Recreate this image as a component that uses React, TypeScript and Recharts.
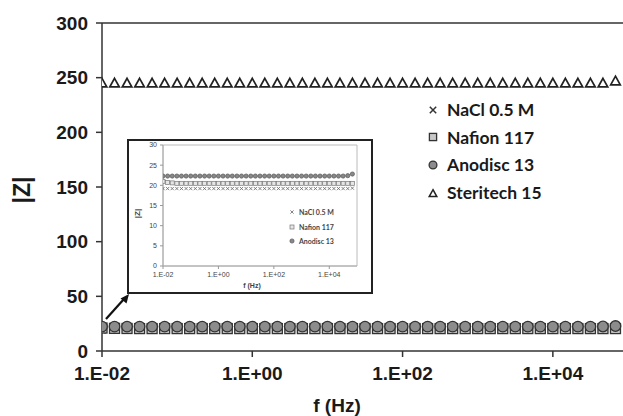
import React from 'react';
import {
  ScatterChart,
  Scatter,
  XAxis,
  YAxis,
  ReferenceLine,
  ReferenceArea,
  Legend,
} from 'recharts';

// measurement frequencies (Hz), 6 points per decade
const freqs = [
  0.01, 0.01468, 0.02154, 0.03162, 0.04642, 0.06813,
  0.1, 0.1468, 0.2154, 0.3162, 0.4642, 0.6813,
  1, 1.468, 2.154, 3.162, 4.642, 6.813,
  10, 14.68, 21.54, 31.62, 46.42, 68.13,
  100, 146.8, 215.4, 316.2, 464.2, 681.3,
  1000, 1468, 2154, 3162, 4642, 6813,
  10000, 14680, 21540, 31620, 46420, 68130,
];

const naclZ = [
  19.2, 19.2, 19.2, 19.2, 19.2, 19.2, 19.2, 19.2, 19.2, 19.2, 19.2, 19.2, 19.2, 19.2,
  19.2, 19.2, 19.2, 19.2, 19.2, 19.2, 19.2, 19.2, 19.2, 19.2, 19.2, 19.2, 19.2, 19.2,
  19.2, 19.2, 19.2, 19.2, 19.2, 19.2, 19.2, 19.2, 19.2, 19.2, 19.2, 19.2, 19.2, 19.3,
];
const nafionZ = [
  21.0, 20.7, 20.6, 20.5, 20.5, 20.5, 20.5, 20.5, 20.5, 20.5, 20.5, 20.5, 20.5, 20.5,
  20.5, 20.5, 20.5, 20.5, 20.5, 20.5, 20.5, 20.5, 20.5, 20.5, 20.5, 20.5, 20.5, 20.5,
  20.5, 20.5, 20.5, 20.5, 20.5, 20.5, 20.5, 20.5, 20.5, 20.5, 20.5, 20.5, 20.5, 20.5,
];
const anodiscZ = [
  22.3, 22.3, 22.3, 22.3, 22.3, 22.3, 22.3, 22.3, 22.3, 22.3, 22.3, 22.3, 22.3, 22.3,
  22.3, 22.3, 22.3, 22.3, 22.3, 22.3, 22.3, 22.3, 22.3, 22.3, 22.3, 22.3, 22.3, 22.3,
  22.3, 22.3, 22.3, 22.3, 22.3, 22.3, 22.3, 22.3, 22.3, 22.3, 22.3, 22.3, 22.4, 22.8,
];
const steritechZ = [
  245, 245, 245, 245, 245, 245, 245, 245, 245, 245, 245, 245, 245, 245,
  245, 245, 245, 245, 245, 245, 245, 245, 245, 245, 245, 245, 245, 245,
  245, 245, 245, 245, 245, 245, 245, 245, 245, 245, 245, 245, 245, 247,
];

const xTicks = [0.01, 1, 100, 10000];
const xTickLabels = ['1.E-02', '1.E+00', '1.E+02', '1.E+04'];
const mainYTicks = [0, 50, 100, 150, 200, 250, 300];
const insetYTicks = [0, 5, 10, 15, 20, 25, 30];

const toPoints = (values: number[]) => freqs.map((f, i) => ({ f, z: values[i] }));
const fmtX = (v: number) => xTickLabels[xTicks.indexOf(v)] ?? '';

const AXIS_FONT = '"Liberation Sans", Arial, sans-serif';
const LEGEND_FONT = 'Lato, "Liberation Sans", sans-serif';

// marker factories
const cross = (s: number, color: string, w: number) => (p: any) => (
  <path
    d={`M${p.cx - s},${p.cy - s}L${p.cx + s},${p.cy + s}M${p.cx - s},${p.cy + s}L${p.cx + s},${p.cy - s}`}
    stroke={color}
    strokeWidth={w}
    fill="none"
  />
);
const square = (s: number, fill: string, stroke: string, w: number) => (p: any) => (
  <rect x={p.cx - s} y={p.cy - s} width={2 * s} height={2 * s} fill={fill} stroke={stroke} strokeWidth={w} />
);
const circle = (r: number, fill: string, stroke: string, w: number) => (p: any) => (
  <circle cx={p.cx} cy={p.cy} r={r} fill={fill} stroke={stroke} strokeWidth={w} />
);
const triangle = (s: number, stroke: string, w: number) => (p: any) => (
  <path
    d={`M${p.cx},${p.cy - s}L${p.cx + s},${p.cy + s * 0.8}L${p.cx - s},${p.cy + s * 0.8}Z`}
    fill="#fff"
    stroke={stroke}
    strokeWidth={w}
  />
);

const mainSeries = [
  { name: 'NaCl 0.5 M', data: toPoints(naclZ), shape: cross(3.5, '#333', 1.4) },
  { name: 'Nafion 117', data: toPoints(nafionZ), shape: square(5, '#c8c8c8', '#333', 1.3) },
  { name: 'Anodisc 13', data: toPoints(anodiscZ), shape: circle(5.3, '#8c8c8c', '#333', 1.3) },
  { name: 'Steritech 15', data: toPoints(steritechZ), shape: triangle(4.8, '#222', 1.7) },
];

const insetSeries = [
  { name: 'NaCl 0.5 M', data: toPoints(naclZ), shape: cross(1.6, '#666', 0.8) },
  { name: 'Nafion 117', data: toPoints(nafionZ), shape: square(2, '#e6e6e6', '#777', 0.7) },
  { name: 'Anodisc 13', data: toPoints(anodiscZ), shape: circle(2.1, '#888', '#555', 0.7) },
];

function MainLegend() {
  return (
    <div style={{ fontFamily: LEGEND_FONT, fontWeight: 700, fontSize: 17.5, color: '#1a1a1a' }}>
      {mainSeries.map((s) => (
        <div key={s.name} style={{ display: 'flex', alignItems: 'center', height: 27.6 }}>
          <svg width={16} height={16}>
            {s.name === 'Steritech 15'
              ? triangle(3.8, '#222', 1.5)({ cx: 8, cy: 8.5 })
              : s.name === 'NaCl 0.5 M'
              ? cross(3.2, '#333', 1.5)({ cx: 8, cy: 8 })
              : s.name === 'Nafion 117'
              ? square(3.6, '#c8c8c8', '#333', 1.3)({ cx: 8, cy: 8 })
              : circle(3.9, '#8c8c8c', '#333', 1.3)({ cx: 8, cy: 8 })}
          </svg>
          <span style={{ marginLeft: 6, whiteSpace: 'nowrap' }}>{s.name}</span>
        </div>
      ))}
    </div>
  );
}

function InsetLegend() {
  return (
    <div style={{ fontFamily: LEGEND_FONT, fontWeight: 700, fontSize: 7, color: '#444' }}>
      {insetSeries.map((s) => (
        <div key={s.name} style={{ display: 'flex', alignItems: 'center', height: 14.5 }}>
          <svg width={8} height={8}>{s.shape({ cx: 4, cy: 4 })}</svg>
          <span style={{ marginLeft: 3, whiteSpace: 'nowrap' }}>{s.name}</span>
        </div>
      ))}
    </div>
  );
}

const mainYLabel = (props: any) => {
  const { x, y, height } = props.viewBox;
  const cx = x + 22;
  const cy = y + height / 2 + 3;
  return (
    <text
      x={cx}
      y={cy}
      transform={`rotate(-90 ${cx} ${cy})`}
      textAnchor="middle"
      dominantBaseline="central"
      fontFamily={AXIS_FONT}
      fontWeight={700}
      fontSize={23}
      fill="#1a1a1a"
    >
      |Z|
    </text>
  );
};

const insetYLabel = (props: any) => {
  const { x, y, height } = props.viewBox;
  const cx = x + 8;
  const cy = y + height / 2 + 8;
  return (
    <text
      x={cx}
      y={cy}
      transform={`rotate(-90 ${cx} ${cy})`}
      textAnchor="middle"
      dominantBaseline="central"
      fontFamily={AXIS_FONT}
      fontWeight={700}
      fontSize={8}
      fill="#444"
    >
      |Z|
    </text>
  );
};

export default function App() {
  const tickStyle = { fontFamily: AXIS_FONT, fontWeight: 700, fontSize: 19, fill: '#1a1a1a' };
  const insetTick = { fontFamily: AXIS_FONT, fontSize: 7, fill: '#444' };

  return (
    <div
      style={{
        position: 'absolute',
        left: 0,
        top: 0,
        width: 623,
        height: 416,
        overflow: 'hidden',
        background: '#fff',
      }}
    >
      <ScatterChart width={632} height={416} margin={{ top: 23, right: 4, bottom: 0, left: 0 }}>
        <XAxis
          dataKey="f"
          type="number"
          scale="log"
          domain={[0.01, 100000]}
          ticks={xTicks}
          tickFormatter={fmtX}
          allowDataOverflow
          height={65}
          tick={tickStyle}
          tickSize={6}
          tickMargin={10}
          axisLine={{ stroke: '#333', strokeWidth: 1.5 }}
          tickLine={{ stroke: '#333', strokeWidth: 1.5 }}
          label={{
            value: 'f (Hz)',
            position: 'insideBottom',
            dx: -28,
            offset: 4,
            style: { fontFamily: AXIS_FONT, fontWeight: 700, fontSize: 19, fill: '#1a1a1a' },
          }}
        />
        <YAxis
          dataKey="z"
          type="number"
          domain={[0, 300]}
          ticks={mainYTicks}
          allowDataOverflow
          width={102}
          tick={tickStyle}
          tickSize={6}
          tickMargin={8}
          axisLine={{ stroke: '#333', strokeWidth: 1.5 }}
          tickLine={{ stroke: '#333', strokeWidth: 1.5 }}
          label={{ content: mainYLabel }}
        />
        <ReferenceLine y={300} stroke="#333" strokeWidth={1.5} />
        {mainSeries.map((s) => (
          <Scatter
            key={s.name}
            name={s.name}
            data={s.data}
            shape={s.shape}
            isAnimationActive={false}
          />
        ))}
        <Legend
          layout="vertical"
          align="center"
          verticalAlign="middle"
          content={() => <MainLegend />}
          wrapperStyle={{ position: 'absolute', left: 425, top: 96, width: 'auto' }}
        />
      </ScatterChart>

      {/* arrow pointing from the low-impedance cluster to the zoomed inset */}
      <svg
        width={40}
        height={40}
        style={{ position: 'absolute', left: 100, top: 288 }}
      >
        <line x1={6} y1={31} x2={24} y2={11} stroke="#111" strokeWidth={2.2} />
        <path d="M29,6 L20.5,10.5 L26.5,15.5 Z" fill="#111" />
      </svg>

      <div
        style={{
          position: 'absolute',
          left: 127,
          top: 139,
          width: 246,
          height: 155,
          boxSizing: 'border-box',
          border: '2px solid #222',
          background: '#fff',
        }}
      >
        <ScatterChart width={242} height={151} margin={{ top: 4, right: 14, bottom: 0, left: 0 }}>
          <XAxis
            dataKey="f"
            type="number"
            scale="log"
            domain={[0.01, 100000]}
            ticks={xTicks}
            tickFormatter={fmtX}
            allowDataOverflow
            height={26}
            tick={insetTick}
            tickSize={3}
            tickMargin={3}
            axisLine={{ stroke: '#aaa' }}
            tickLine={{ stroke: '#999' }}
            label={{
              value: 'f (Hz)',
              position: 'insideBottom',
              dx: -8,
              offset: 4,
              style: { fontFamily: AXIS_FONT, fontWeight: 700, fontSize: 7, fill: '#444' },
            }}
          />
          <YAxis
            dataKey="z"
            type="number"
            domain={[0, 30]}
            ticks={insetYTicks}
            allowDataOverflow
            width={34}
            tick={insetTick}
            tickSize={3}
            tickMargin={3}
            axisLine={{ stroke: '#aaa' }}
            tickLine={{ stroke: '#999' }}
            label={{ content: insetYLabel }}
          />
          <ReferenceArea x1={0.01} x2={100000} y1={0} y2={30} fill="none" stroke="#bbb" strokeWidth={1} />
          {insetSeries.map((s) => (
            <Scatter
              key={s.name}
              name={s.name}
              data={s.data}
              shape={s.shape}
              isAnimationActive={false}
            />
          ))}
          <Legend
            layout="vertical"
            align="center"
            verticalAlign="middle"
            content={() => <InsetLegend />}
            wrapperStyle={{ position: 'absolute', left: 159, top: 64, width: 'auto' }}
          />
        </ScatterChart>
      </div>
    </div>
  );
}
